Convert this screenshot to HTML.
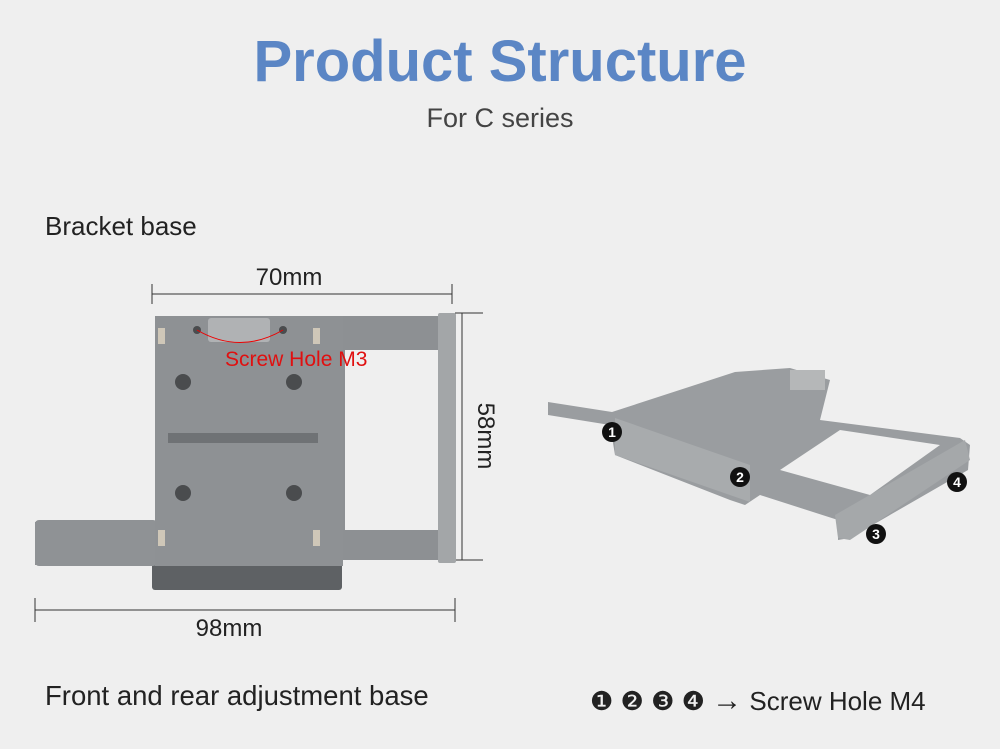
<!DOCTYPE html>
<html><head><meta charset="utf-8"><style>
body{margin:0;width:1000px;height:749px;background:#efefef;font-family:"Liberation Sans",sans-serif;position:relative;overflow:hidden}
.t{position:absolute;white-space:nowrap}
</style></head><body>
<div class="t" style="left:0;width:1000px;text-align:center;top:28px;font-size:58px;font-weight:bold;color:#5b86c5">Product Structure</div>
<div class="t" style="left:0;width:1000px;text-align:center;top:103px;font-size:27px;color:#444">For C series</div>
<div class="t" style="left:45px;top:211px;font-size:26px;color:#222">Bracket base</div>
<div class="t" style="left:45px;top:680px;font-size:27.5px;color:#222">Front and rear adjustment base</div>
<div class="t" style="left:590px;top:684px;font-size:26px;color:#222">❶ ❷ ❸ ❹ <span style="font-size:30px">→</span> Screw Hole M4</div>
<svg width="1000" height="749" style="position:absolute;left:0;top:0">
<g stroke="#333" stroke-width="1">
<line x1="152" y1="294" x2="452" y2="294"/><line x1="152" y1="284" x2="152" y2="304"/><line x1="452" y1="284" x2="452" y2="304"/>
<line x1="462" y1="313" x2="462" y2="560"/><line x1="455" y1="313" x2="483" y2="313"/><line x1="455" y1="560" x2="483" y2="560"/>
<line x1="35" y1="610" x2="455" y2="610"/><line x1="35" y1="598" x2="35" y2="622"/><line x1="455" y1="598" x2="455" y2="622"/>
</g>
<text x="289" y="285" font-size="24" text-anchor="middle" fill="#222">70mm</text>
<text x="229" y="636" font-size="24" text-anchor="middle" fill="#222">98mm</text>
<text x="0" y="0" font-size="24" text-anchor="middle" fill="#222" transform="translate(478,436) rotate(90)">58mm</text>
<rect x="152" y="558" width="190" height="32" rx="3" fill="#5e6164"/>
<path d="M155 316 H445 V560 H340 V530 H155 V565 H35 V522 H155 Z" fill="#8d9093"/>
<rect x="35" y="520" width="122" height="46" rx="4" fill="#8f9295"/>
<rect x="155" y="316" width="188" height="250" fill="#8e9194"/>
<rect x="438" y="313" width="18" height="250" rx="2" fill="#a3a6a8"/>
<rect x="345" y="350" width="93" height="180" fill="#efefef"/>
<rect x="208" y="318" width="62" height="24" rx="3" fill="#b0b2b4"/>
<rect x="168" y="433" width="150" height="10" fill="#6f7275"/>
<g fill="#4a4c4e"><circle cx="183" cy="382" r="8"/><circle cx="294" cy="382" r="8"/><circle cx="183" cy="493" r="8"/><circle cx="294" cy="493" r="8"/><circle cx="197" cy="330" r="4"/><circle cx="283" cy="330" r="4"/></g>
<g fill="#cfc7b8"><rect x="158" y="328" width="7" height="16"/><rect x="313" y="328" width="7" height="16"/><rect x="158" y="530" width="7" height="16"/><rect x="313" y="530" width="7" height="16"/></g>
<path d="M197 330 Q240 355 283 330" stroke="#e00" fill="none"/>
<text x="225" y="366" font-size="21" fill="#e01010">Screw Hole M3</text>
<path d="M548 402 L612 412 L735 372 L790 368 L830 380 L820 420 L960 438 L970 445 L968 470 L850 538 L838 540 L838 520 L760 495 L745 505 L730 500 L615 455 L610 425 L548 415 Z" fill="#9a9da0"/>
<path d="M615 418 L750 465 L750 502 L615 455 Z" fill="#a8abad"/>
<path d="M835 515 L965 440 L970 460 L850 540 L838 538 Z" fill="#a5a8aa"/>
<path d="M780 470 L840 430 L940 445 L870 495 Z" fill="#efefef"/>
<rect x="790" y="370" width="35" height="20" fill="#b5b7b8"/>
<g fill="#111"><circle cx="612" cy="432" r="10"/><circle cx="740" cy="477" r="10"/><circle cx="876" cy="534" r="10"/><circle cx="957" cy="482" r="10"/></g>
<g fill="#fff" font-size="14" font-weight="bold" text-anchor="middle"><text x="612" y="437">1</text><text x="740" y="482">2</text><text x="876" y="539">3</text><text x="957" y="487">4</text></g>
</svg>
</body></html>
